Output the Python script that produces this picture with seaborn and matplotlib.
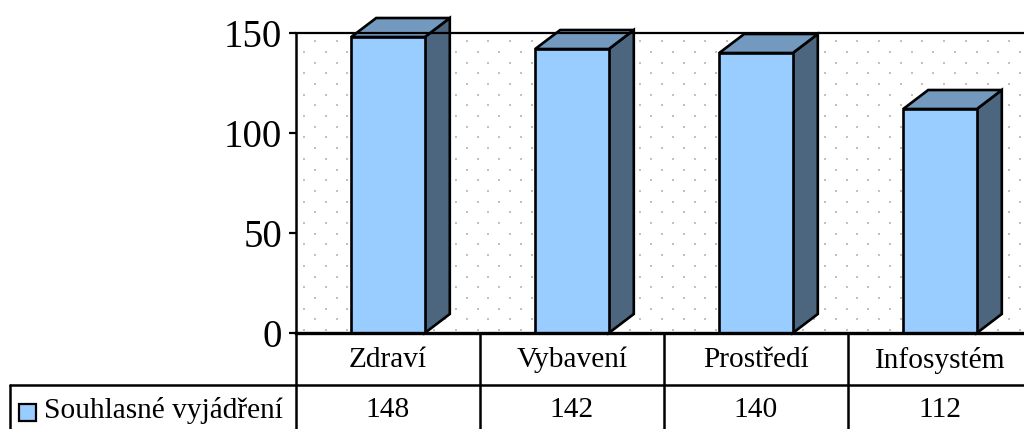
import numpy as np
import pandas as pd
import matplotlib
matplotlib.use("Agg")
import matplotlib.pyplot as plt
from matplotlib.patches import Polygon, Rectangle
from matplotlib.transforms import blended_transform_factory
import seaborn as sns

categories = ["Zdraví", "Vybavení", "Prostředí", "Infosystém"]
values = [148, 142, 140, 112]
series_name = "Souhlasné vyjádření"
yticks = [0, 50, 100, 150]

FRONT = "#99CCFF"
TOP = "#7399BF"
SIDE = "#4D6680"

sns.set_theme(style="white")
plt.rcParams["font.family"] = ["Liberation Serif", "DejaVu Serif"]
plt.rcParams["text.color"] = "black"
plt.rcParams["ytick.color"] = "black"
plt.rcParams["ytick.labelcolor"] = "black"

W, H = 1024, 429
fig = plt.figure(figsize=(W / 100, H / 100), dpi=100)
fig.patch.set_facecolor("white")
ax = fig.add_axes([296 / W, 96 / H, 736 / W, 300 / H])

LW = 1.9

df = pd.DataFrame({"cat": categories, "val": values})
sns.barplot(data=df, x="cat", y="val", color=FRONT, saturation=1, width=0.4,
            edgecolor="black", linewidth=LW, ax=ax, zorder=3)
ax.set_xlim(-0.5, 3.5)
ax.set_ylim(0, 150)

# dotted background pattern (decoration)
px_x = 1.0 / 184.0   # data units per pixel (x)
px_y = 0.5           # data units per pixel (y)
xs_per, ys_per = 21.7 * px_x, 10.7 * px_y
dots_x, dots_y = [], []
for i, yy in enumerate(np.arange(3 * px_y, 150, ys_per)):
    off = 0 if i % 2 == 0 else xs_per / 2
    for xx in np.arange(-0.5 + 8 * px_x + off, 3.5, xs_per):
        dots_x.append(xx)
        dots_y.append(yy)
ax.scatter(dots_x, dots_y, s=3.5, marker="s", color="#c0c0c0", linewidths=0, zorder=0)

# 3D faces
dx, dy = 25 * px_x, 19 * px_y
for p in ax.patches[:len(values)]:
    x0 = p.get_x()
    w = p.get_width()
    h = p.get_height()
    x1 = x0 + w
    side = Polygon([(x1, 0), (x1 + dx, dy), (x1 + dx, h + dy), (x1, h)], closed=True,
                   facecolor=SIDE, edgecolor="black", linewidth=LW, zorder=2.5, clip_on=False,
                   joinstyle="miter")
    top = Polygon([(x0, h), (x0 + dx, h + dy), (x1 + dx, h + dy), (x1, h)], closed=True,
                  facecolor=TOP, edgecolor="black", linewidth=LW, zorder=2.5, clip_on=False,
                  joinstyle="miter")
    ax.add_patch(side)
    ax.add_patch(top)

# spines
ax.spines["right"].set_visible(False)
ax.spines["top"].set_color("black")
ax.spines["top"].set_linewidth(1.6)
ax.spines["left"].set_color("black")
ax.spines["left"].set_linewidth(1.8)
ax.spines["bottom"].set_color("black")
ax.spines["bottom"].set_linewidth(2.4)
ax.spines["bottom"].set_zorder(4)

ax.set_yticks(yticks)
ax.set_yticklabels([str(t) for t in yticks], fontsize=28, color="black")
ax.tick_params(axis="y", direction="out", length=5, width=1.6, color="black", pad=5, left=True)
ax.set_xticks([])
ax.set_xlabel("")
ax.set_ylabel("")

# data table below the axes
tr = blended_transform_factory(ax.transData, ax.transAxes)
r1 = -52 / 300.0
r2 = -110 / 300.0
left_x = -0.5 + (10 - 296) * px_x
lc = dict(color="black", linewidth=1.8, clip_on=False, transform=tr, zorder=5)
for k in range(len(categories) + 1):
    xb = -0.5 + k
    ax.plot([xb, xb], [0, r2], **lc)
ax.plot([left_x, 3.6], [r1, r1], **lc)
ax.plot([left_x, left_x], [r1, r2], **lc)

FS = 21.2
for i, (c, v) in enumerate(zip(categories, values)):
    ax.text(i, r1 / 2 - 1 / 300, c, transform=tr, ha="center", va="center", fontsize=FS, color="black")
    ax.text(i, r1 - 25 / 300, str(v), transform=tr, ha="center", va="center", fontsize=FS,
            color="black")

# legend key in table
fig.patches.append(Rectangle((19 / W, (H - 421) / H), 17 / W, 17 / H, transform=fig.transFigure,
                             facecolor=FRONT, edgecolor="black", linewidth=1.6))
fig.text(44 / W, (H - 411) / H, series_name, ha="left", va="center", fontsize=FS, color="black")

fig.savefig("out.png", dpi=100)
